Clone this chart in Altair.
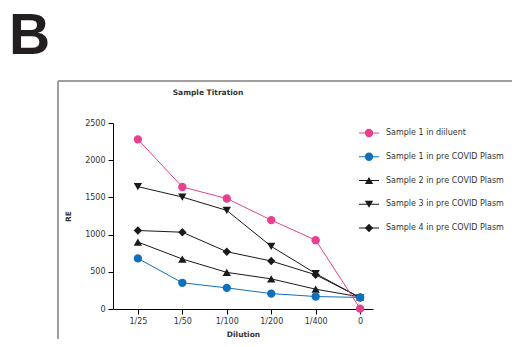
import altair as alt
import pandas as pd

dilutions = ["1/25", "1/50", "1/100", "1/200", "1/400", "0"]
series_names = [
    "Sample 1 in diiluent",
    "Sample 1 in pre COVID Plasm",
    "Sample 2 in pre COVID Plasm",
    "Sample 3 in pre COVID Plasm",
    "Sample 4 in pre COVID Plasm",
]
s1_diluent = [2280, 1640, 1485, 1195, 925, 5]
s1_plasma = [680, 352, 284, 207, 168, 155]
s2_plasma = [900, 672, 492, 405, 266, 162]
s3_plasma = [1645, 1505, 1325, 842, 477, 150]
s4_plasma = [1055, 1032, 770, 645, 460, 155]
series_values = [s1_diluent, s1_plasma, s2_plasma, s3_plasma, s4_plasma]

colors = ["#E8408F", "#1070BC", "#1A1A1A", "#1A1A1A", "#1A1A1A"]
shapes = ["circle", "circle", "triangle-up", "triangle-down", "diamond"]

rows = []
# draw black series first, then blue, then pink on top
for si in [2, 3, 4, 1, 0]:
    for i, v in enumerate(series_values[si]):
        rows.append({"series": series_names[si], "idx": i, "dil": dilutions[i], "RE": v})
df = pd.DataFrame(rows)
legend_df = pd.DataFrame({"series": series_names})

font = "DejaVu Sans"
label_expr = "[" + ",".join("'" + d + "'" for d in dilutions) + "][datum.value]"

x_enc = alt.X(
    "idx:Q",
    scale=alt.Scale(domain=[-0.56, 5.29], nice=False, zero=False),
    axis=alt.Axis(
        values=list(range(len(dilutions))),
        labelExpr=label_expr,
        title="Dilution",
        grid=False,
        titlePadding=5,
    ),
)
y_enc = alt.Y(
    "RE:Q",
    scale=alt.Scale(domain=[0, 2500], nice=False),
    axis=alt.Axis(values=[0, 500, 1000, 1500, 2000, 2500], format="d", title="RE", grid=False, titlePadding=12),
)

color_scale = alt.Scale(domain=series_names, range=colors)
shape_scale = alt.Scale(domain=series_names, range=shapes)

lines = alt.Chart(df).mark_line(strokeWidth=1).encode(
    x=x_enc,
    y=y_enc,
    color=alt.Color("series:N", scale=color_scale, legend=None),
    detail="series:N",
)

points = alt.Chart(df).mark_point(filled=True, opacity=1, size=70).encode(
    x=x_enc,
    y=y_enc,
    color=alt.Color("series:N", scale=color_scale, legend=None),
    shape=alt.Shape("series:N", scale=shape_scale, legend=None),
)

main = alt.layer(lines, points)

# legend built from the series list through an ordinal row scale
ly = alt.Y("series:N", scale=alt.Scale(type="point", domain=series_names, range=[10, 105], padding=0), axis=None)
leg_rule = alt.Chart(legend_df).mark_rule(strokeWidth=1).encode(
    x=alt.value(246), x2=alt.value(266), y=ly,
    color=alt.Color("series:N", scale=color_scale, legend=None),
)
leg_pt = alt.Chart(legend_df).mark_point(filled=True, opacity=1, size=70).encode(
    x=alt.value(256), y=ly,
    color=alt.Color("series:N", scale=color_scale, legend=None),
    shape=alt.Shape("series:N", scale=shape_scale, legend=None),
)
leg_txt = alt.Chart(legend_df).mark_text(
    font=font, fontSize=8, color="#333333", align="left", baseline="middle"
).encode(x=alt.value(273), y=ly, text="series:N")
legend = alt.layer(leg_rule, leg_pt, leg_txt)

one = pd.DataFrame({"t": ["B"]})
big_b = alt.Chart(one).mark_text(
    text="B", font="Liberation Sans", fontWeight="bold", fontSize=57, align="left", baseline="alphabetic", color="#231F20"
).encode(x=alt.value(-104), y=alt.value(-69))

title_df = pd.DataFrame({"t": ["Sample Titration"]})
title = alt.Chart(title_df).mark_text(
    font=font, fontSize=7.5, fontWeight="bold", color="#333333", align="center", baseline="middle"
).encode(x=alt.value(95), y=alt.value(-30), text="t:N")

frame_top = alt.Chart(one).mark_rule(color="#808080", strokeWidth=1.5).encode(
    x=alt.value(-55), x2=alt.value(399), y=alt.value(-42)
)
frame_left = alt.Chart(one).mark_rule(color="#808080", strokeWidth=1.5).encode(
    x=alt.value(-55), y=alt.value(-42), y2=alt.value(216)
)

chart = (
    alt.layer(frame_top, frame_left, big_b, title, main, legend)
    .resolve_scale(y="independent")
    .properties(
        width=260,
        height=186,
        autosize=alt.AutoSizeParams(type="none"),
        padding={"left": 105, "top": 115, "right": 139, "bottom": 30},
    )
    .configure_view(stroke=None)
    .configure_axis(
        labelFont=font,
        labelFontSize=8,
        labelColor="#333333",
        titleFont=font,
        titleFontSize=7.5,
        titleFontWeight="bold",
        titleColor="#333333",
        domainColor="#000000",
        tickColor="#000000",
        tickSize=5,
        labelPadding=3,
    )
)

chart.save("out.html", embed_options={"renderer": "svg", "actions": False})
